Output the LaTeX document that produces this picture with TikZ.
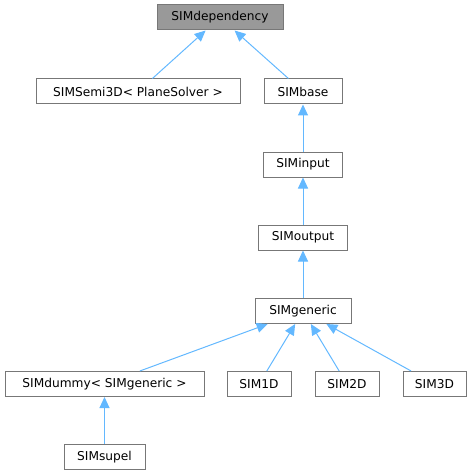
\documentclass[tikz,border=0pt]{standalone}
\usepackage{fontspec}
\setmainfont{DejaVu Sans}
\usetikzlibrary{arrows.meta}
\definecolor{edgeblue}{HTML}{63B8FF}
\definecolor{boxline}{HTML}{777777}
\definecolor{topfill}{HTML}{999999}
\begin{document}
\begin{tikzpicture}[x=1pt,y=-1pt,
  box/.style={draw=boxline,fill=white,line width=1pt,minimum height=25pt,inner sep=0pt,font=\fontsize{12.2}{14}\selectfont},
  inherit/.style={draw=edgeblue,line width=1pt,-{Triangle[length=11pt,width=10pt]}}]
\useasboundingbox (0,0) rectangle (473,476);

\node[box,fill=topfill,minimum width=126pt] (dep) at (220,17.5) {SIMdependency};
\node[box,minimum width=204pt] (semi) at (138,91.5) {SIMSemi3D< PlaneSolver >};
\node[box,minimum width=78pt] (base) at (303,91.5) {SIMbase};
\node[box,minimum width=79pt] (input) at (303,164.5) {SIMinput};
\node[box,minimum width=89pt] (output) at (303,237.5) {SIMoutput};
\node[box,minimum width=96pt] (generic) at (303,311) {SIMgeneric};

\node[box,minimum width=199pt] (dummy) at (104.5,384) {SIMdummy< SIMgeneric >};
\node[box,minimum width=64pt] (sim1) at (259,384) {SIM1D};
\node[box,minimum width=64pt] (sim2) at (347,384) {SIM2D};
\node[box,minimum width=63pt] (sim3) at (434.5,384) {SIM3D};
\node[box,minimum width=81pt] (supel) at (104.5,457) {SIMsupel};

\draw[inherit] (semi) -- (dep);
\draw[inherit] (base) -- (dep);
\draw[inherit] (input) -- (base);
\draw[inherit] (output) -- (input);
\draw[inherit] (generic) -- (output);
\draw[inherit] (dummy) -- (generic);
\draw[inherit] (sim1) -- (generic);
\draw[inherit] (sim2) -- (generic);
\draw[inherit] (sim3) -- (generic);
\draw[inherit] (supel) -- (dummy);
\end{tikzpicture}
\end{document}
